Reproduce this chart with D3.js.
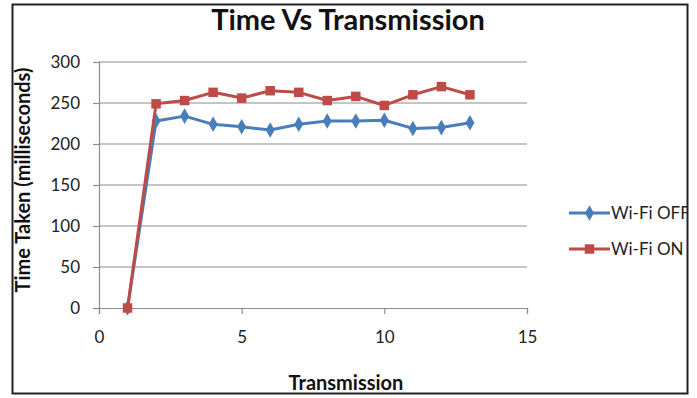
<!DOCTYPE html>
<html>
<head>
<meta charset="utf-8">
<script src="https://cdn.jsdelivr.net/npm/d3@7"></script>
<style>
  html, body { margin: 0; padding: 0; background: #fff; }
  svg { display: block; }
  text { font-family: Lato, "Open Sans", sans-serif; }
</style>
</head>
<body>
<svg id="chart" width="697" height="398"></svg>
<script>
// Transmission index (x) and time taken in milliseconds for each run
const transmissions = [1, 2, 3, 4, 5, 6, 7, 8, 9, 10, 11, 12, 13];
const wifiOff = [0, 228, 234, 224, 221, 217, 224, 228, 228, 229, 219, 220, 226];
const wifiOn  = [0, 249, 253, 263, 256, 265, 263, 253, 258, 247, 260, 270, 260];
const seriesNames = ["Wi-Fi OFF", "Wi-Fi ON"];
const xTicks = [0, 5, 10, 15];
const yTicks = [0, 50, 100, 150, 200, 250, 300];

const svg = d3.select("#chart");

const x = d3.scaleLinear().domain([0, 15]).range([99, 527]);
const y = d3.scaleLinear().domain([0, 300]).range([308, 62]);

// outer chart frame clip (legend text gets cut at the border)
svg.append("clipPath").attr("id", "frameClip")
  .append("rect").attr("x", 13).attr("y", 5).attr("width", 674).attr("height", 388);

// horizontal gridlines
svg.append("g")
  .selectAll("line")
  .data(yTicks.filter(d => d > 0))
  .join("line")
  .attr("x1", x(0)).attr("x2", x(15))
  .attr("y1", d => y(d)).attr("y2", d => y(d))
  .attr("stroke", "#8c8c8c").attr("stroke-width", 1.2);

// y axis
const yAxis = svg.append("g")
  .attr("transform", `translate(${x(0)},0)`)
  .call(d3.axisLeft(y).tickValues(yTicks).tickSize(6).tickPadding(13));
yAxis.select(".domain").attr("stroke", "#8c8c8c").attr("stroke-width", 1.2);
yAxis.selectAll(".tick line").attr("stroke", "#8c8c8c").attr("stroke-width", 1.2);
yAxis.selectAll(".tick text")
  .attr("font-family", "Lato, 'Open Sans', sans-serif")
  .attr("font-size", 17).attr("fill", "#222");

// x axis
const xAxis = svg.append("g")
  .attr("transform", `translate(0,${y(0)})`)
  .call(d3.axisBottom(x).tickValues(xTicks).tickSize(6).tickPadding(17));
xAxis.select(".domain").attr("stroke", "#8c8c8c").attr("stroke-width", 1.2);
xAxis.selectAll(".tick line").attr("stroke", "#8c8c8c").attr("stroke-width", 1.2);
xAxis.selectAll(".tick text")
  .attr("font-family", "Lato, 'Open Sans', sans-serif")
  .attr("font-size", 17).attr("fill", "#222");

const colors = ["#4a7ebb", "#be4b48"];
const seriesData = [wifiOff, wifiOn];

const line = d3.line()
  .x((d, i) => x(transmissions[i]))
  .y(d => y(d));

const diamond = d3.symbol().type(d3.symbolDiamond).size(70);
const square = d3.symbol().type(d3.symbolSquare).size(90);
const symbols = [diamond, square];

seriesData.forEach((vals, s) => {
  const g = svg.append("g");
  g.append("path")
    .datum(vals)
    .attr("d", line)
    .attr("fill", "none")
    .attr("stroke", colors[s])
    .attr("stroke-width", 3)
    .attr("stroke-linejoin", "round");
  g.selectAll("path.mark")
    .data(vals)
    .join("path")
    .attr("class", "mark")
    .attr("transform", (d, i) => `translate(${x(transmissions[i])},${y(d)})`)
    .attr("d", symbols[s])
    .attr("fill", colors[s]);
});

// legend
const legend = svg.append("g").attr("clip-path", "url(#frameClip)");
const legendY = [213, 249];
seriesNames.forEach((name, s) => {
  const row = legend.append("g").attr("transform", `translate(0,${legendY[s]})`);
  row.append("line")
    .attr("x1", 569).attr("x2", 610).attr("y1", 0).attr("y2", 0)
    .attr("stroke", colors[s]).attr("stroke-width", 3);
  row.append("path")
    .attr("transform", "translate(589.5,0)")
    .attr("d", symbols[s])
    .attr("fill", colors[s]);
  row.append("text")
    .attr("x", 611).attr("y", 0).attr("dy", "0.36em")
    .attr("font-size", 17).attr("fill", "#222")
    .text(name);
});

// titles
svg.append("text")
  .attr("x", 348).attr("y", 30)
  .attr("text-anchor", "middle")
  .attr("font-size", 29).attr("font-weight", "bold").attr("fill", "#111")
  .text("Time Vs Transmission");

svg.append("text")
  .attr("x", 346).attr("y", 390)
  .attr("text-anchor", "middle")
  .attr("font-size", 20).attr("font-weight", "bold").attr("fill", "#111")
  .text("Transmission");

svg.append("text")
  .attr("transform", "translate(30,180) rotate(-90)")
  .attr("text-anchor", "middle")
  .attr("font-size", 20).attr("font-weight", "bold").attr("fill", "#111")
  .text("Time Taken (milliseconds)");

// chart frame
svg.append("rect")
  .attr("x", 12.5).attr("y", 4.5).attr("width", 675).attr("height", 389)
  .attr("fill", "none").attr("stroke", "#222").attr("stroke-width", 2);
</script>
</body>
</html>
